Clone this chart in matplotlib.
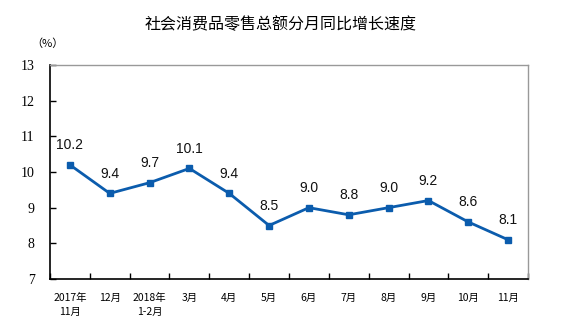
import matplotlib
matplotlib.use("Agg")
import matplotlib.pyplot as plt

categories = ["2017年\n11月", "12月", "2018年\n1-2月", "3月", "4月", "5月",
              "6月", "7月", "8月", "9月", "10月", "11月"]
values = [10.2, 9.4, 9.7, 10.1, 9.4, 8.5, 9.0, 8.8, 9.0, 9.2, 8.6, 8.1]
yticks = [7, 8, 9, 10, 11, 12, 13]

cjk = ["Noto Sans CJK SC", "DejaVu Sans"]

fig = plt.figure(figsize=(5.67, 3.31), dpi=100)
ax = fig.add_axes([50/567, 1-279/331, (528-50)/567, (279-65)/331])

x = list(range(len(values)))
ax.plot(x, values, color="#0B5CAD", lw=2, marker="s", ms=5, mfc="#0B5CAD", mec="#0B5CAD")
for xi, v in zip(x, values):
    ax.annotate(f"{v:.1f}", (xi, v), xytext=(0, 9), textcoords="offset points",
                ha="center", va="bottom", fontsize=10, family="Liberation Sans", color="#111111")

ax.set_xlim(-0.5, len(values)-0.5)
ax.set_ylim(7, 13)
ax.set_yticks(yticks)
ax.set_yticklabels([str(t) for t in yticks], family="Liberation Serif", fontsize=10)
ax.tick_params(axis="y", direction="in", length=4, width=1, pad=11)

ax.set_xticks(x)
ax.set_xticklabels(categories, family=cjk, fontsize=7.5, linespacing=1.5, va="top",
                   weight="medium")
ax.tick_params(axis="x", which="major", length=0, pad=10)
ax.set_xticks([i - 0.5 for i in range(len(values)+1)], minor=True)
ax.tick_params(axis="x", which="minor", direction="in", length=4, width=1)

for side in ["left", "bottom"]:
    ax.spines[side].set_color("black")
    ax.spines[side].set_linewidth(1.2)
for side in ["top", "right"]:
    ax.spines[side].set_color("#999999")
    ax.spines[side].set_linewidth(1)

fig.text(281/567, 1-25/331, "社会消费品零售总额分月同比增长速度", ha="center", va="center",
         family=cjk, fontsize=11.5)
fig.text(47/567, 1-44/331, "（%）", ha="center", va="center", family=cjk, fontsize=8)

fig.savefig("out.png", dpi=100)
